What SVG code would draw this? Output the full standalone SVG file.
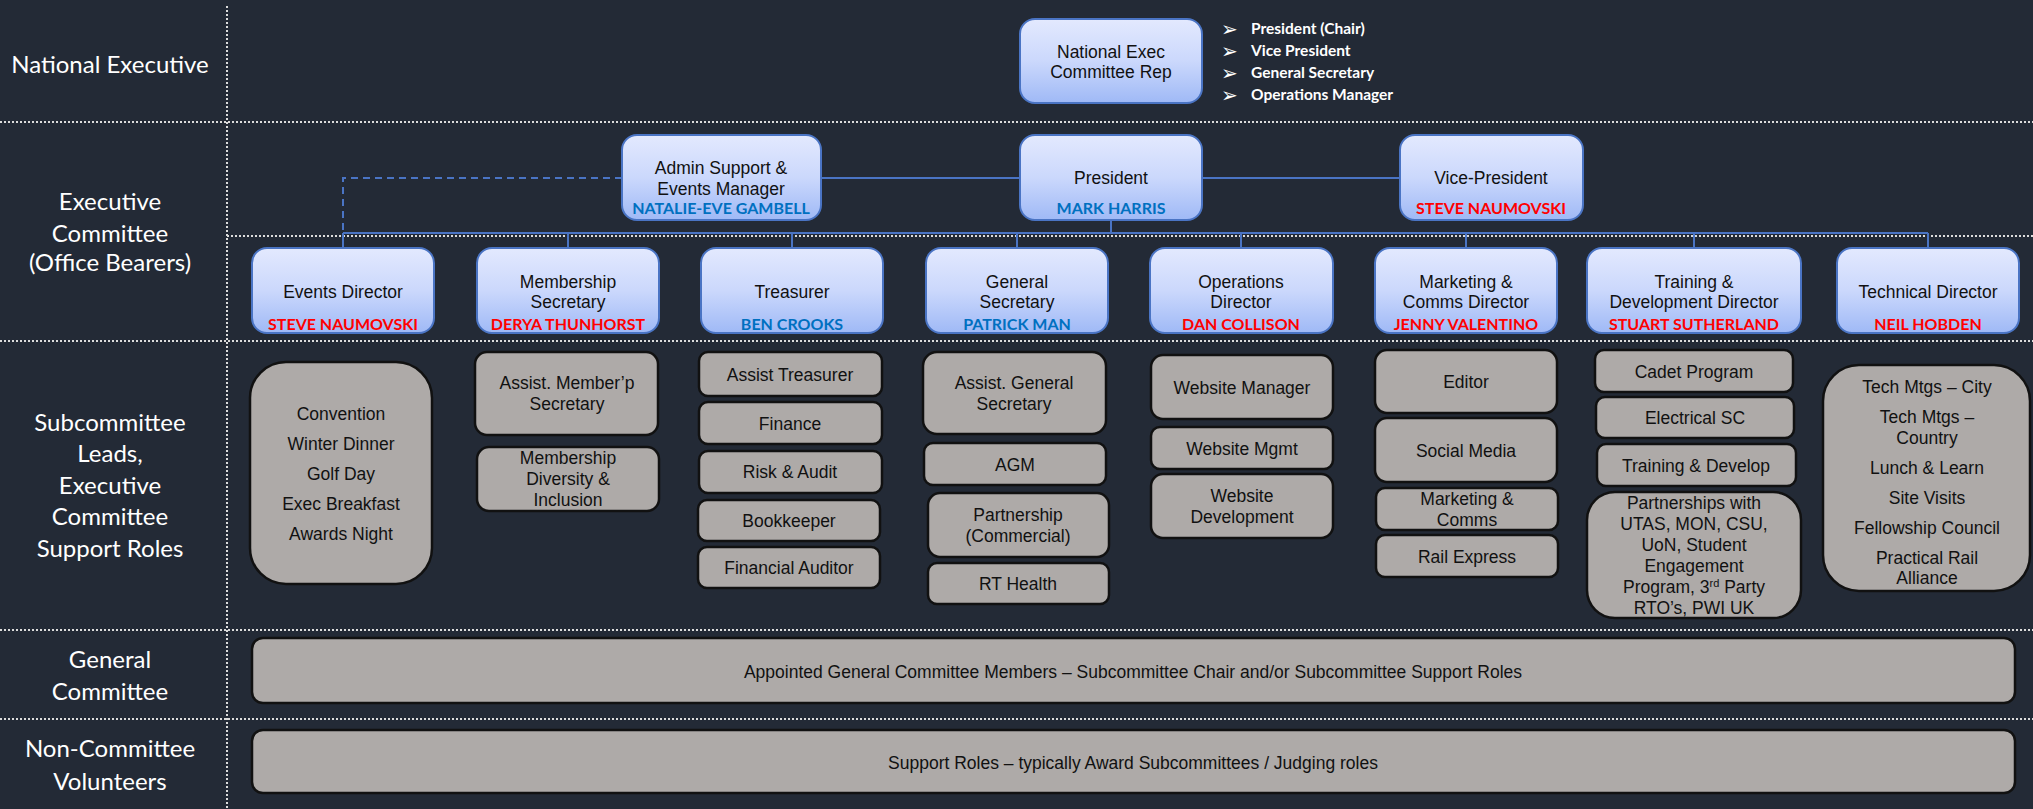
<svg xmlns="http://www.w3.org/2000/svg" width="2033" height="809" viewBox="0 0 2033 809">
<defs>
<linearGradient id="blueGrad" x1="0" y1="0" x2="0" y2="1">
<stop offset="0" stop-color="#e3e9fe"/>
<stop offset="0.5" stop-color="#cbd8fc"/>
<stop offset="1" stop-color="#9fb9f6"/>
</linearGradient>
<style>
.lane{font-family:Lato,"Open Sans",sans-serif;font-size:24px;fill:#ffffff;text-anchor:middle}
.div{stroke:#dcdcdc;stroke-width:2;stroke-dasharray:2 2;fill:none}
.bbox{fill:url(#blueGrad);stroke:#4a74c4;stroke-width:2}
.gbox{fill:#aeaaa8;stroke:#111111;stroke-width:2.5}
.t{font-family:"Liberation Sans",Arial,sans-serif;font-size:17.5px;fill:#111111;text-anchor:middle}
.nm{font-family:Lato,"Open Sans",sans-serif;font-size:16px;font-weight:bold;text-anchor:middle}
.red{fill:#ff0000}
.blu{fill:#0070c0}
.bul{font-family:Lato,"Open Sans",sans-serif;font-size:15.5px;font-weight:bold;fill:#ffffff}
.arr{font-family:"DejaVu Sans",sans-serif;font-size:20px;fill:#ffffff}
.conn{stroke:#4a74c4;stroke-width:2;fill:none}
.dash{stroke:#4a74c4;stroke-width:2;fill:none;stroke-dasharray:7 5}
</style>
</defs>
<rect x="0" y="0" width="2033" height="809" fill="#232a36"/>

<g id="lanes">
<line class="div" x1="227" y1="6" x2="227" y2="809"/>
<line class="div" x1="0" y1="122" x2="2033" y2="122"/>
<line class="div" x1="227" y1="236" x2="2033" y2="236"/>
<line class="div" x1="0" y1="341" x2="2033" y2="341"/>
<line class="div" x1="0" y1="630" x2="2033" y2="630"/>
<line class="div" x1="0" y1="719" x2="2033" y2="719"/>
<text class="lane" x="110" y="73">National Executive</text>
<text class="lane" x="110" y="210">Executive</text>
<text class="lane" x="110" y="242">Committee</text>
<text class="lane" x="110" y="271">(Office Bearers)</text>
<text class="lane" x="110" y="431">Subcommittee</text>
<text class="lane" x="110" y="462">Leads,</text>
<text class="lane" x="110" y="494">Executive</text>
<text class="lane" x="110" y="525">Committee</text>
<text class="lane" x="110" y="557">Support Roles</text>
<text class="lane" x="110" y="668">General</text>
<text class="lane" x="110" y="700">Committee</text>
<text class="lane" x="110" y="757">Non-Committee</text>
<text class="lane" x="110" y="790">Volunteers</text>
</g>

<g id="connectors">
<line class="conn" x1="821" y1="178" x2="1020" y2="178"/>
<line class="conn" x1="1202" y1="178" x2="1400" y2="178"/>
<polyline class="dash" points="622,178 343,178 343,233"/>
<line class="conn" x1="1111" y1="220" x2="1111" y2="233"/>
<line class="conn" x1="343" y1="233" x2="1928" y2="233"/>
<line class="conn" x1="343" y1="233" x2="343" y2="248"/>
<line class="conn" x1="568" y1="233" x2="568" y2="248"/>
<line class="conn" x1="792" y1="233" x2="792" y2="248"/>
<line class="conn" x1="1017" y1="233" x2="1017" y2="248"/>
<line class="conn" x1="1241" y1="233" x2="1241" y2="248"/>
<line class="conn" x1="1466" y1="233" x2="1466" y2="248"/>
<line class="conn" x1="1694" y1="233" x2="1694" y2="248"/>
<line class="conn" x1="1928" y1="233" x2="1928" y2="248"/>
</g>

<g id="natexec">
<rect class="bbox" x="1020" y="19" width="182" height="84" rx="15"/>
<text class="t" x="1111" y="58">National Exec</text>
<text class="t" x="1111" y="78">Committee Rep</text>
</g>
<g id="natexec-list">
<text class="arr" x="1221" y="36">➢</text><text class="bul" x="1251" y="34">President (Chair)</text>
<text class="arr" x="1221" y="58">➢</text><text class="bul" x="1251" y="56">Vice President</text>
<text class="arr" x="1221" y="80">➢</text><text class="bul" x="1251" y="78">General Secretary</text>
<text class="arr" x="1221" y="102">➢</text><text class="bul" x="1251" y="100">Operations Manager</text>
</g>

<g id="admin">
<rect class="bbox" x="622" y="135" width="199" height="85" rx="15"/>
<text class="t" x="721" y="174">Admin Support &amp;</text>
<text class="t" x="721" y="195">Events Manager</text>
<text class="nm blu" x="721" y="214">NATALIE-EVE GAMBELL</text>
</g>
<g id="president">
<rect class="bbox" x="1020" y="135" width="182" height="85" rx="15"/>
<text class="t" x="1111" y="184">President</text>
<text class="nm blu" x="1111" y="214">MARK HARRIS</text>
</g>
<g id="vicepresident">
<rect class="bbox" x="1400" y="135" width="183" height="85" rx="15"/>
<text class="t" x="1491" y="184">Vice-President</text>
<text class="nm red" x="1491" y="214">STEVE NAUMOVSKI</text>
</g>

<g id="events-director">
<rect class="bbox" x="252" y="248" width="182" height="85" rx="15"/>
<text class="t" x="343" y="298">Events Director</text>
<text class="nm red" x="343" y="330">STEVE NAUMOVSKI</text>
</g>
<g id="membership-secretary">
<rect class="bbox" x="477" y="248" width="182" height="85" rx="15"/>
<text class="t" x="568" y="288">Membership</text>
<text class="t" x="568" y="308">Secretary</text>
<text class="nm red" x="568" y="330">DERYA THUNHORST</text>
</g>
<g id="treasurer">
<rect class="bbox" x="701" y="248" width="182" height="85" rx="15"/>
<text class="t" x="792" y="298">Treasurer</text>
<text class="nm blu" x="792" y="330">BEN CROOKS</text>
</g>
<g id="general-secretary">
<rect class="bbox" x="926" y="248" width="182" height="85" rx="15"/>
<text class="t" x="1017" y="288">General</text>
<text class="t" x="1017" y="308">Secretary</text>
<text class="nm blu" x="1017" y="330">PATRICK MAN</text>
</g>
<g id="operations-director">
<rect class="bbox" x="1150" y="248" width="183" height="85" rx="15"/>
<text class="t" x="1241" y="288">Operations</text>
<text class="t" x="1241" y="308">Director</text>
<text class="nm red" x="1241" y="330">DAN COLLISON</text>
</g>
<g id="marketing-director">
<rect class="bbox" x="1375" y="248" width="182" height="85" rx="15"/>
<text class="t" x="1466" y="288">Marketing &amp;</text>
<text class="t" x="1466" y="308">Comms Director</text>
<text class="nm red" x="1466" y="330">JENNY VALENTINO</text>
</g>
<g id="training-director">
<rect class="bbox" x="1587" y="248" width="214" height="85" rx="15"/>
<text class="t" x="1694" y="288">Training &amp;</text>
<text class="t" x="1694" y="308">Development Director</text>
<text class="nm red" x="1694" y="330">STUART SUTHERLAND</text>
</g>
<g id="technical-director">
<rect class="bbox" x="1837" y="248" width="182" height="85" rx="15"/>
<text class="t" x="1928" y="298">Technical Director</text>
<text class="nm red" x="1928" y="330">NEIL HOBDEN</text>
</g>

<g id="events-list">
<rect class="gbox" x="250" y="362" width="182" height="222" rx="36"/>
<text class="t" x="341" y="420">Convention</text>
<text class="t" x="341" y="450">Winter Dinner</text>
<text class="t" x="341" y="480">Golf Day</text>
<text class="t" x="341" y="510">Exec Breakfast</text>
<text class="t" x="341" y="540">Awards Night</text>
</g>

<g id="assist-membership">
<rect class="gbox" x="475" y="352" width="183" height="83" rx="12"/>
<text class="t" x="567" y="389">Assist. Member’p</text>
<text class="t" x="567" y="410">Secretary</text>
</g>
<g id="membership-diversity">
<rect class="gbox" x="477" y="447" width="182" height="64" rx="12"/>
<text class="t" x="568" y="464">Membership</text>
<text class="t" x="568" y="485">Diversity &amp;</text>
<text class="t" x="568" y="506">Inclusion</text>
</g>

<g id="assist-treasurer">
<rect class="gbox" x="699" y="352" width="183" height="44" rx="9"/>
<text class="t" x="790" y="381">Assist Treasurer</text>
</g>
<g id="finance">
<rect class="gbox" x="699" y="402" width="183" height="42" rx="9"/>
<text class="t" x="790" y="430">Finance</text>
</g>
<g id="risk-audit">
<rect class="gbox" x="699" y="451" width="183" height="42" rx="9"/>
<text class="t" x="790" y="478">Risk &amp; Audit</text>
</g>
<g id="bookkeeper">
<rect class="gbox" x="698" y="500" width="182" height="41" rx="9"/>
<text class="t" x="789" y="527">Bookkeeper</text>
</g>
<g id="financial-auditor">
<rect class="gbox" x="698" y="547" width="182" height="41" rx="9"/>
<text class="t" x="789" y="574">Financial Auditor</text>
</g>

<g id="assist-general-secretary">
<rect class="gbox" x="923" y="352" width="183" height="82" rx="14"/>
<text class="t" x="1014" y="389">Assist. General</text>
<text class="t" x="1014" y="410">Secretary</text>
</g>
<g id="agm">
<rect class="gbox" x="924" y="443" width="182" height="42" rx="9"/>
<text class="t" x="1015" y="471">AGM</text>
</g>
<g id="partnership-commercial">
<rect class="gbox" x="928" y="493" width="181" height="64" rx="12"/>
<text class="t" x="1018" y="521">Partnership</text>
<text class="t" x="1018" y="542">(Commercial)</text>
</g>
<g id="rt-health">
<rect class="gbox" x="928" y="563" width="181" height="41" rx="9"/>
<text class="t" x="1018" y="590">RT Health</text>
</g>

<g id="website-manager">
<rect class="gbox" x="1151" y="355" width="182" height="64" rx="12"/>
<text class="t" x="1242" y="394">Website Manager</text>
</g>
<g id="website-mgmt">
<rect class="gbox" x="1151" y="427" width="182" height="42" rx="9"/>
<text class="t" x="1242" y="455">Website Mgmt</text>
</g>
<g id="website-development">
<rect class="gbox" x="1151" y="474" width="182" height="64" rx="12"/>
<text class="t" x="1242" y="502">Website</text>
<text class="t" x="1242" y="523">Development</text>
</g>

<g id="editor">
<rect class="gbox" x="1375" y="350" width="182" height="63" rx="12"/>
<text class="t" x="1466" y="388">Editor</text>
</g>
<g id="social-media">
<rect class="gbox" x="1375" y="418" width="182" height="64" rx="12"/>
<text class="t" x="1466" y="457">Social Media</text>
</g>
<g id="marketing-comms">
<rect class="gbox" x="1376" y="488" width="182" height="42" rx="9"/>
<text class="t" x="1467" y="505">Marketing &amp;</text>
<text class="t" x="1467" y="526">Comms</text>
</g>
<g id="rail-express">
<rect class="gbox" x="1376" y="535" width="182" height="42" rx="9"/>
<text class="t" x="1467" y="563">Rail Express</text>
</g>

<g id="cadet-program">
<rect class="gbox" x="1595" y="350" width="198" height="42" rx="9"/>
<text class="t" x="1694" y="378">Cadet Program</text>
</g>
<g id="electrical-sc">
<rect class="gbox" x="1596" y="397" width="198" height="41" rx="9"/>
<text class="t" x="1695" y="424">Electrical SC</text>
</g>
<g id="training-develop">
<rect class="gbox" x="1597" y="444" width="199" height="42" rx="9"/>
<text class="t" x="1696" y="472">Training &amp; Develop</text>
</g>
<g id="partnerships">
<rect class="gbox" x="1587" y="492" width="214" height="126" rx="28"/>
<text class="t" x="1694" y="509">Partnerships with</text>
<text class="t" x="1694" y="530">UTAS, MON, CSU,</text>
<text class="t" x="1694" y="551">UoN, Student</text>
<text class="t" x="1694" y="572">Engagement</text>
<text class="t" x="1694" y="593">Program, 3<tspan font-size="11px" dy="-6">rd</tspan><tspan dy="6"> Party</tspan></text>
<text class="t" x="1694" y="614">RTO’s, PWI UK</text>
</g>

<g id="technical-list">
<rect class="gbox" x="1823" y="365" width="207" height="226" rx="36"/>
<text class="t" x="1927" y="393">Tech Mtgs – City</text>
<text class="t" x="1927" y="423">Tech Mtgs –</text>
<text class="t" x="1927" y="444">Country</text>
<text class="t" x="1927" y="474">Lunch &amp; Learn</text>
<text class="t" x="1927" y="504">Site Visits</text>
<text class="t" x="1927" y="534">Fellowship Council</text>
<text class="t" x="1927" y="564">Practical Rail</text>
<text class="t" x="1927" y="584">Alliance</text>
</g>

<g id="general-committee">
<rect class="gbox" x="252" y="638" width="1763" height="65" rx="11"/>
<text class="t" x="1133" y="678">Appointed General Committee Members – Subcommittee Chair and/or Subcommittee Support Roles</text>
</g>
<g id="non-committee">
<rect class="gbox" x="252" y="730" width="1763" height="63" rx="11"/>
<text class="t" x="1133" y="769">Support Roles – typically Award Subcommittees / Judging roles</text>
</g>
</svg>
